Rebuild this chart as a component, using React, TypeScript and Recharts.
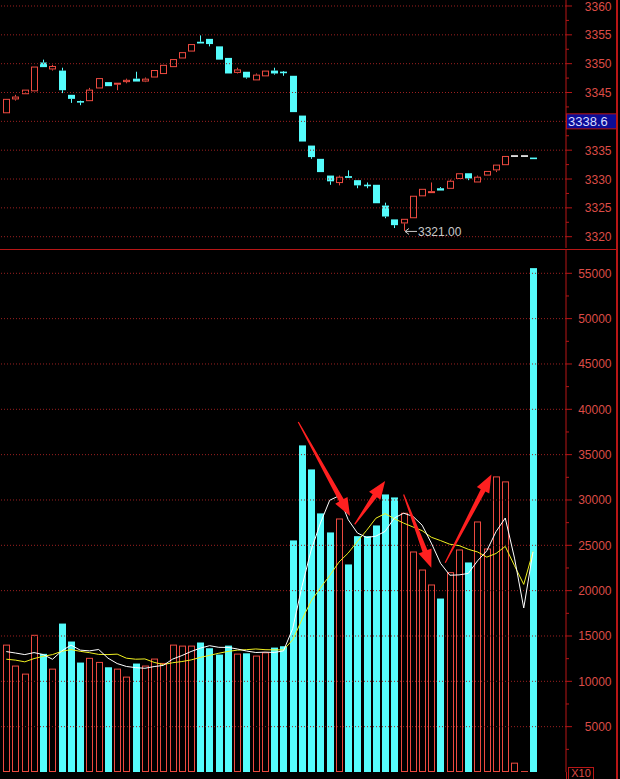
import { ComposedChart, Bar, Line, XAxis, YAxis, ReferenceLine } from 'recharts';

// candle values, one per bar (oldest first)
const opens = [
  3341.4, 3343.8, 3344.7, 3345.2, 3350.2, 3349.0, 3348.8, 3344.6, 3343.4, 3343.5,
  3345.7, 3346.8, 3346.4, 3346.8, 3347.4, 3346.9, 3347.6, 3348.2, 3349.4, 3350.9,
  3352.1, 3353.8, 3354.3, 3353.0, 3351.0, 3348.4, 3348.6, 3347.1, 3347.8, 3348.8,
  3348.5, 3347.9, 3341.0, 3335.8, 3333.5, 3330.6, 3329.3, 3330.5, 3329.8, 3328.9,
  3329.0, 3325.4, 3323.0, 3322.3, 3323.2, 3327.0, 3327.8, 3328.4, 3328.3, 3330.0,
  3331.0, 3329.4, 3330.6, 3331.5, 3332.4, 3334.0, 3334.0, 3333.6,
];
const highs = [
  3343.9, 3344.6, 3345.5, 3349.5, 3350.7, 3349.8, 3349.3, 3344.6, 3343.6, 3345.8,
  3347.5, 3346.8, 3346.7, 3347.4, 3348.6, 3347.6, 3348.9, 3349.8, 3350.8, 3352.0,
  3353.4, 3354.9, 3354.3, 3353.0, 3351.0, 3349.3, 3348.6, 3348.3, 3348.8, 3349.3,
  3348.7, 3347.9, 3341.0, 3335.8, 3333.5, 3330.6, 3330.6, 3331.5, 3329.8, 3329.4,
  3329.0, 3325.9, 3323.0, 3323.1, 3327.1, 3328.3, 3329.4, 3328.6, 3329.9, 3331.0,
  3331.0, 3330.6, 3331.4, 3332.5, 3334.0, 3334.0, 3334.0, 3333.6,
];
const lows = [
  3341.4, 3343.6, 3344.7, 3345.2, 3349.4, 3348.8, 3344.9, 3343.2, 3342.8, 3343.5,
  3345.7, 3346.1, 3345.4, 3346.6, 3346.9, 3346.8, 3347.6, 3348.2, 3349.4, 3350.9,
  3352.1, 3353.5, 3353.0, 3350.7, 3348.3, 3348.3, 3347.4, 3347.1, 3347.8, 3348.1,
  3347.9, 3341.6, 3336.5, 3333.5, 3331.2, 3329.0, 3328.9, 3330.2, 3328.4, 3328.4,
  3325.8, 3323.2, 3321.5, 3321.0, 3323.2, 3327.0, 3327.8, 3328.0, 3328.3, 3330.0,
  3329.8, 3329.4, 3330.6, 3331.2, 3332.4, 3334.0, 3334.0, 3333.5,
];
const closes = [
  3343.9, 3344.3, 3345.5, 3349.5, 3349.4, 3349.6, 3345.4, 3343.9, 3343.3, 3345.5,
  3347.5, 3346.1, 3346.7, 3347.2, 3346.9, 3347.4, 3348.9, 3349.8, 3350.8, 3352.0,
  3353.4, 3353.5, 3353.4, 3350.7, 3348.3, 3349.0, 3347.6, 3348.1, 3348.8, 3348.3,
  3348.4, 3341.6, 3336.5, 3333.8, 3331.2, 3329.6, 3330.4, 3330.2, 3328.9, 3328.8,
  3325.8, 3323.5, 3322.0, 3323.1, 3327.1, 3328.3, 3327.9, 3328.0, 3329.7, 3331.0,
  3330.1, 3330.4, 3331.4, 3332.5, 3334.0, 3334.0, 3334.0, 3333.5,
];

// volume and its two moving averages as drawn
const volumes = [
  14050, 11740, 10850, 15130, 13030, 11400, 16370, 14390, 12070, 12590,
  12140, 11550, 11400, 10520, 11960, 11740, 12510, 12030, 14050, 13940,
  13940, 14280, 13650, 12950, 13940, 13060, 13090, 12840, 13200, 13720,
  13870, 25540, 36020, 33370, 28520, 26420, 27960, 22890, 26010, 26010,
  27190, 30610, 30280, 28590, 24320, 22330, 20680, 19130, 22040, 24540,
  23110, 27630, 24650, 32600, 32050, 1030, 100, 55570,
];
const ma5 = [
  13280, 13120, 12950, 13170, 12950, 12430, 13350, 14000, 13440, 13360,
  13510, 12560, 11960, 11640, 11510, 11440, 11630, 11760, 12450, 12840,
  13290, 13660, 13930, 13750, 13740, 13570, 13340, 13180, 13220, 13180,
  13360, 15830, 20470, 24500, 27460, 29970, 30460, 27830, 26360, 25860,
  26010, 26540, 28020, 28540, 28200, 27230, 25240, 23010, 21700, 21740,
  21900, 23290, 24390, 26510, 28010, 23590, 18090, 24270,
];
const ma10 = [
  12440, 12340, 12150, 12510, 12760, 12950, 13310, 13500, 13310, 13160,
  12970, 12950, 13000, 12550, 12440, 12470, 12090, 11850, 12050, 12180,
  12360, 12640, 12860, 13100, 13300, 13440, 13490, 13570, 13490, 13470,
  13460, 14590, 16820, 18870, 20320, 21660, 23150, 24150, 25430, 26660,
  27990, 28500, 27930, 27450, 27030, 26620, 25890, 25520, 25120, 24970,
  24560, 24270, 23700, 24100, 24880, 22750, 20690, 24330,
];

const priceTicks = [
  3320, 3322.5, 3325, 3327.5, 3330, 3332.5, 3335, 3337.5, 3340,
  3342.5, 3345, 3347.5, 3350, 3352.5, 3355, 3357.5, 3360,
];
const volTicks = [
  2500, 5000, 7500, 10000, 12500, 15000, 17500, 20000, 22500, 25000, 27500,
  30000, 32500, 35000, 37500, 40000, 42500, 45000, 47500, 50000, 52500, 55000,
];
const cursorPrice = '3338.6';
const cursorTick = 3340;
const volUnit = 'X10';

// hand drawn arrows on the volume panel: [bar index, volume] from -> to
const arrowFrom = [[31.6, 38600], [37.7, 27300], [43.0, 30600], [47.5, 23070]];
const arrowTo = [[37.2, 28220], [41.0, 32080], [46.0, 22520], [52.5, 32820]];

const RED = '#ec4a40';
const CYAN = '#55fcfc';
const AXIS = '#b81616';
const GRID = '#9c2020';
const TXT = '#dc4c46';
const ARROW = '#ff2020';
const FONT = '"Liberation Sans", Arial, sans-serif';

const data = opens.map((o, i) => ({
  i,
  open: o,
  high: highs[i],
  low: lows[i],
  close: closes[i],
  vol: volumes[i],
  ma5: ma5[i],
  ma10: ma10[i],
}));

const lowIdx = lows.indexOf(Math.min(...lows));

const CHART_W = 617;
const AXIS_W = 51;
const X_DOMAIN = [-0.682, 60.573];

const Candle = (props: any) => {
  const { x, y, width, height, payload } = props;
  if (x == null || y == null) return null;
  const { open, close, high, low } = payload;
  const top = Math.min(y, y + height);
  const h = Math.abs(height);
  const k = high > low ? h / (high - low) : 0;
  const py = (p: number) => top + (high - p) * k;
  const cx = Math.round(x + width / 2);
  const left = cx - 3;
  const bt = py(Math.max(open, close));
  const bb = py(Math.min(open, close));
  const color = close > open ? RED : close < open ? CYAN : '#ffffff';
  const parts: any[] = [];
  if (high > low) {
    parts.push(<line key="w1" x1={cx + 0.5} x2={cx + 0.5} y1={py(high)} y2={bt} stroke={color} />);
    parts.push(<line key="w2" x1={cx + 0.5} x2={cx + 0.5} y1={bb} y2={py(low)} stroke={color} />);
  }
  if (close > open) {
    parts.push(
      <rect key="b" x={left + 0.5} y={bt + 0.5} width={6} height={Math.max(bb - bt - 1, 1)} fill="#000" stroke={color} />
    );
  } else if (bb - bt < 1.5) {
    parts.push(<rect key="b" x={left} y={bt - 0.7} width={7} height={1.6} fill={color} />);
  } else {
    parts.push(<rect key="b" x={left} y={bt} width={7} height={bb - bt} fill={color} />);
  }
  if (payload.i === lowIdx) {
    const ly = py(low);
    parts.push(
      <g key="low">
        <line x1={cx + 1} x2={cx + 13} y1={ly + 0.5} y2={ly + 0.5} stroke="#c8c8c8" />
        <path d={`M${cx + 1},${ly + 0.5} l4,-3 M${cx + 1},${ly + 0.5} l4,3`} stroke="#c8c8c8" fill="none" />
        <text x={cx + 14} y={ly + 5} fill="#c8c8c8" fontSize={12} fontFamily={FONT}>
          {low.toFixed(2)}
        </text>
      </g>
    );
  }
  return <g>{parts}</g>;
};

const VolBar = (props: any) => {
  const { x, y, width, height, payload } = props;
  if (x == null || y == null) return null;
  const cx = Math.round(x + width / 2);
  const left = cx - 3;
  const h = Math.abs(height);
  const top = Math.min(y, y + height);
  if (payload.close >= payload.open) {
    return <rect x={left + 0.5} y={top + 0.5} width={6} height={Math.max(h - 1, 0.5)} fill="none" stroke={RED} />;
  }
  return <rect x={left} y={top} width={7} height={h} fill={CYAN} />;
};

const PriceTick = (props: any) => {
  const { x, y, payload } = props;
  const v = payload.value;
  const major = v % 5 === 0;
  if (v === cursorTick) {
    // the cursor price box sits over this tick and hides its label
    return (
      <g>
        <rect x={x + 0.5} y={y - 7.5} width={52} height={15} fill="#0c0c96" stroke={AXIS} />
        <text x={x + 2} y={y + 5} fill="#d8dcff" fontSize={13} fontFamily={FONT}>
          {cursorPrice}
        </text>
      </g>
    );
  }
  return (
    <g>
      <line x1={x} x2={x + (major ? 6 : 3)} y1={y} y2={y} stroke={AXIS} />
      {major && (
        <text x={x + 45.5} y={y + 4.5} textAnchor="end" fill={TXT} fontSize={12} fontFamily={FONT}>
          {v}
        </text>
      )}
    </g>
  );
};

const VolTick = (props: any) => {
  const { x, y, payload } = props;
  const v = payload.value;
  const major = v % 5000 === 0;
  return (
    <g>
      <line x1={x} x2={x + (major ? 6 : 3)} y1={y} y2={y} stroke={AXIS} />
      {major && (
        <text x={x + 45.5} y={y + 4.5} textAnchor="end" fill={TXT} fontSize={12} fontFamily={FONT}>
          {v}
        </text>
      )}
    </g>
  );
};

const Arrow = (props: any) => {
  const { x1, y1, x2, y2 } = props;
  const dx = x2 - x1;
  const dy = y2 - y1;
  const len = Math.hypot(dx, dy) || 1;
  const ux = dx / len;
  const uy = dy / len;
  const nx = -uy;
  const ny = ux;
  const head = 18;
  const bx = x2 - ux * head;
  const by = y2 - uy * head;
  const pts = [
    [x1 + nx * 0.6, y1 + ny * 0.6],
    [bx + nx * 2.6, by + ny * 2.6],
    [bx + nx * 7, by + ny * 7],
    [x2, y2],
    [bx - nx * 7, by - ny * 7],
    [bx - nx * 2.6, by - ny * 2.6],
    [x1 - nx * 0.6, y1 - ny * 0.6],
  ];
  return <polygon points={pts.map((p) => p.join(',')).join(' ')} fill={ARROW} />;
};

export default function App() {
  return (
    <div
      style={{
        position: 'absolute',
        left: 0,
        top: 0,
        width: 620,
        height: 779,
        background: '#000',
        overflow: 'hidden',
      }}
    >
      <div style={{ position: 'absolute', left: 0, top: 0 }}>
        <ComposedChart width={CHART_W} height={249} data={data} margin={{ top: 0, right: 0, bottom: 1, left: 0 }}>
          <XAxis dataKey="i" type="number" domain={X_DOMAIN} allowDataOverflow hide />
          <YAxis
            orientation="right"
            type="number"
            domain={[3318.04, 3361.04]}
            allowDataOverflow
            width={AXIS_W}
            ticks={priceTicks}
            interval={0}
            tick={PriceTick}
            tickLine={false}
            tickSize={0}
            tickMargin={0}
            axisLine={{ stroke: AXIS }}
          />
          {priceTicks
            .filter((v) => v % 5 === 0)
            .map((v) => (
              <ReferenceLine key={v} y={v} stroke={GRID} strokeDasharray="1 2" />
            ))}
          <Bar
            dataKey={(d: any) => [d.low, d.high]}
            barSize={7}
            shape={Candle}
            isAnimationActive={false}
          />
        </ComposedChart>
      </div>

      <div style={{ position: 'absolute', left: 0, top: 250 }}>
        <ComposedChart width={CHART_W} height={529} data={data} margin={{ top: 0, right: 0, bottom: 7, left: 0 }}>
          <XAxis dataKey="i" type="number" domain={X_DOMAIN} allowDataOverflow hide />
          <YAxis
            orientation="right"
            type="number"
            domain={[0, 57570]}
            allowDataOverflow
            width={AXIS_W}
            ticks={volTicks}
            interval={0}
            tick={VolTick}
            tickLine={false}
            tickSize={0}
            tickMargin={0}
            axisLine={{ stroke: AXIS }}
          />
          {volTicks
            .filter((v) => v % 5000 === 0)
            .map((v) => (
              <ReferenceLine key={v} y={v} stroke={GRID} strokeDasharray="1 2" />
            ))}
          <Bar dataKey="vol" barSize={7} shape={VolBar} isAnimationActive={false} />
          <Line dataKey="ma10" type="linear" stroke="#f0f020" strokeWidth={1} dot={false} isAnimationActive={false} />
          <Line dataKey="ma5" type="linear" stroke="#ffffff" strokeWidth={1} dot={false} isAnimationActive={false} />
          {arrowFrom.map((f, k) => (
            <ReferenceLine
              key={`arrow-${k}`}
              segment={[
                { x: f[0], y: f[1] },
                { x: arrowTo[k][0], y: arrowTo[k][1] },
              ]}
              shape={Arrow}
            />
          ))}
        </ComposedChart>
      </div>

      {/* panel frame lines */}
      <div style={{ position: 'absolute', left: 0, top: 248.5, width: 617, height: 1.5, background: AXIS }} />
      <div style={{ position: 'absolute', left: 616, top: 0, width: 1.5, height: 779, background: AXIS }} />
      <div style={{ position: 'absolute', left: 566, top: 772, width: 1, height: 7, background: AXIS }} />
      <div
        style={{
          position: 'absolute',
          left: 568,
          top: 767,
          width: 24,
          height: 14,
          border: `1px solid ${AXIS}`,
          color: TXT,
          font: `11px ${FONT}`,
          lineHeight: '11px',
          textAlign: 'center',
        }}
      >
        {volUnit}
      </div>
    </div>
  );
}
